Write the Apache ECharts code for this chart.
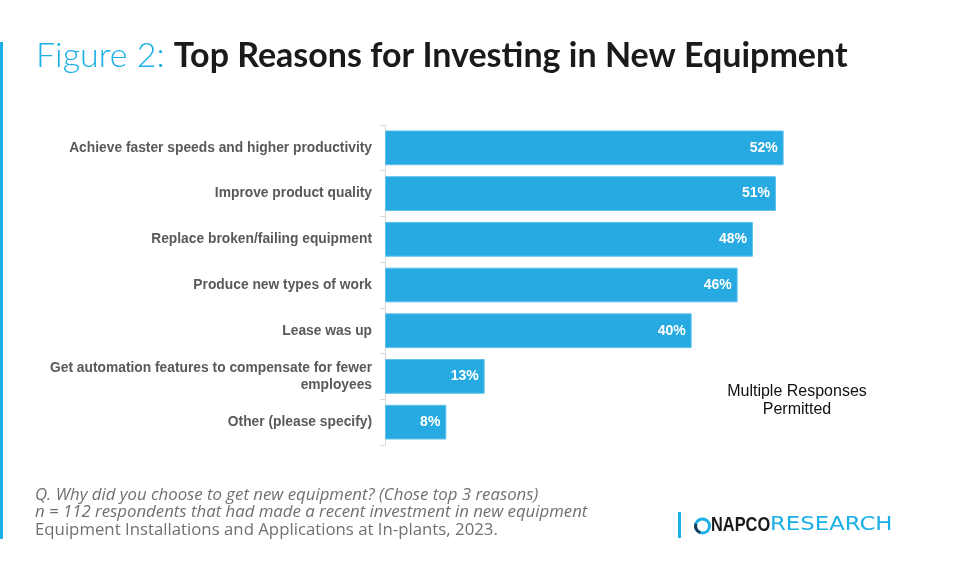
<!DOCTYPE html>
<html>
<head>
<meta charset="utf-8">
<script src="https://cdn.jsdelivr.net/npm/echarts@6/dist/echarts.min.js"></script>
<style>
html,body{margin:0;padding:0;background:#fff;}
#c{width:960px;height:573px;}
</style>
</head>
<body>
<div id="c"></div>
<script>
const categories = [
  "Achieve faster speeds and higher productivity",
  "Improve product quality",
  "Replace broken/failing equipment",
  "Produce new types of work",
  "Lease was up",
  "Get automation features to compensate for fewer\nemployees",
  "Other (please specify)"
];
const values = [52, 51, 48, 46, 40, 13, 8];
const footnotes = [
  "Q. Why did you choose to get new equipment? (Chose top 3 reasons)",
  "n = 112 respondents that had made a recent investment in new equipment",
  "Equipment Installations and Applications at In-plants, 2023."
];

const chart = echarts.init(document.getElementById('c'), null, {renderer:'canvas'});
chart.setOption({
  backgroundColor: '#ffffff',
  animation: false,
  title: {
    left: 31, top: 34,
    text: '{a|Figure 2: }{b|Top Reasons for Investing in New Equipment}',
    textStyle: {
      rich: {
        a: {fontFamily: 'Lato', fontWeight: 300, fontSize: 34, color: '#1AAFE6'},
        b: {fontFamily: 'Lato', fontWeight: 'bold', fontSize: 34, color: '#1a1a1a'}
      }
    }
  },
  grid: {left: 385, right: 115, top: 125, bottom: 128, containLabel: false},
  xAxis: {type: 'value', min: 0, max: 60, show: false},
  yAxis: {
    type: 'category', data: categories, inverse: true,
    axisLine: {show: true, lineStyle: {color: '#d9d9d9', width: 1}},
    axisTick: {show: true, length: 5, lineStyle: {color: '#d9d9d9'}},
    axisLabel: {
      margin: 13, color: '#595959', fontFamily: 'Liberation Sans, Arial',
      fontWeight: 'bold', fontSize: 13.8, lineHeight: 17, align: 'right'
    }
  },
  series: [{
    type: 'bar', data: values, barCategoryGap: '24%',
    itemStyle: {color: '#27AAE1', borderColor: '#5EC2EC', borderWidth: 1},
    label: {
      show: true, position: 'insideRight', distance: 6,
      formatter: '{c}%', color: '#ffffff', fontFamily: 'Liberation Sans, Arial',
      fontWeight: 'bold', fontSize: 14
    }
  }],
  graphic: [
    {type: 'rect', shape: {x: 0, y: 42, width: 3, height: 497}, style: {fill: '#1AAFE6'}},
    {type: 'text', x: 797, y: 383, style: {
      text: 'Multiple Responses\nPermitted', fill: '#111', fontFamily: 'Liberation Sans, Arial',
      fontSize: 16, lineHeight: 18, align: 'center'
    }},
    {type: 'text', x: 35, y: 486, style: {
      text: footnotes[0] + '\n' + footnotes[1], fill: '#707070', fontFamily: 'Open Sans',
      fontStyle: 'italic', fontSize: 16.8, lineHeight: 17.5
    }},
    {type: 'text', x: 35, y: 521.5, style: {
      text: footnotes[2], fill: '#707070', fontFamily: 'Open Sans', fontSize: 16.8
    }},
    {type: 'rect', shape: {x: 678, y: 512, width: 3, height: 26}, style: {fill: '#1AAFE6'}},
    {type: 'arc', shape: {cx: 702.5, cy: 526, r: 7, startAngle: 0, endAngle: Math.PI * 2}, style: {fill: 'none', stroke: '#1AAFE6', lineWidth: 3}},
    {type: 'arc', shape: {cx: 702.5, cy: 526, r: 7, startAngle: Math.PI * 0.6, endAngle: Math.PI * 1.1}, style: {fill: 'none', stroke: '#1a3a5a', lineWidth: 3}},
    {type: 'text', x: 711, y: 516, scaleX: 0.84, style: {
      text: 'NAPCO', fill: '#1a1a1a', fontFamily: 'Liberation Sans, Arial', fontWeight: 'bold', fontSize: 19.5
    }},
    {type: 'text', x: 770, y: 516, scaleX: 1.2, style: {
      text: 'RESEARCH', fill: '#1AAFE6', fontFamily: 'DejaVu Sans', fontSize: 19
    }}
  ]
});
</script>
</body>
</html>
